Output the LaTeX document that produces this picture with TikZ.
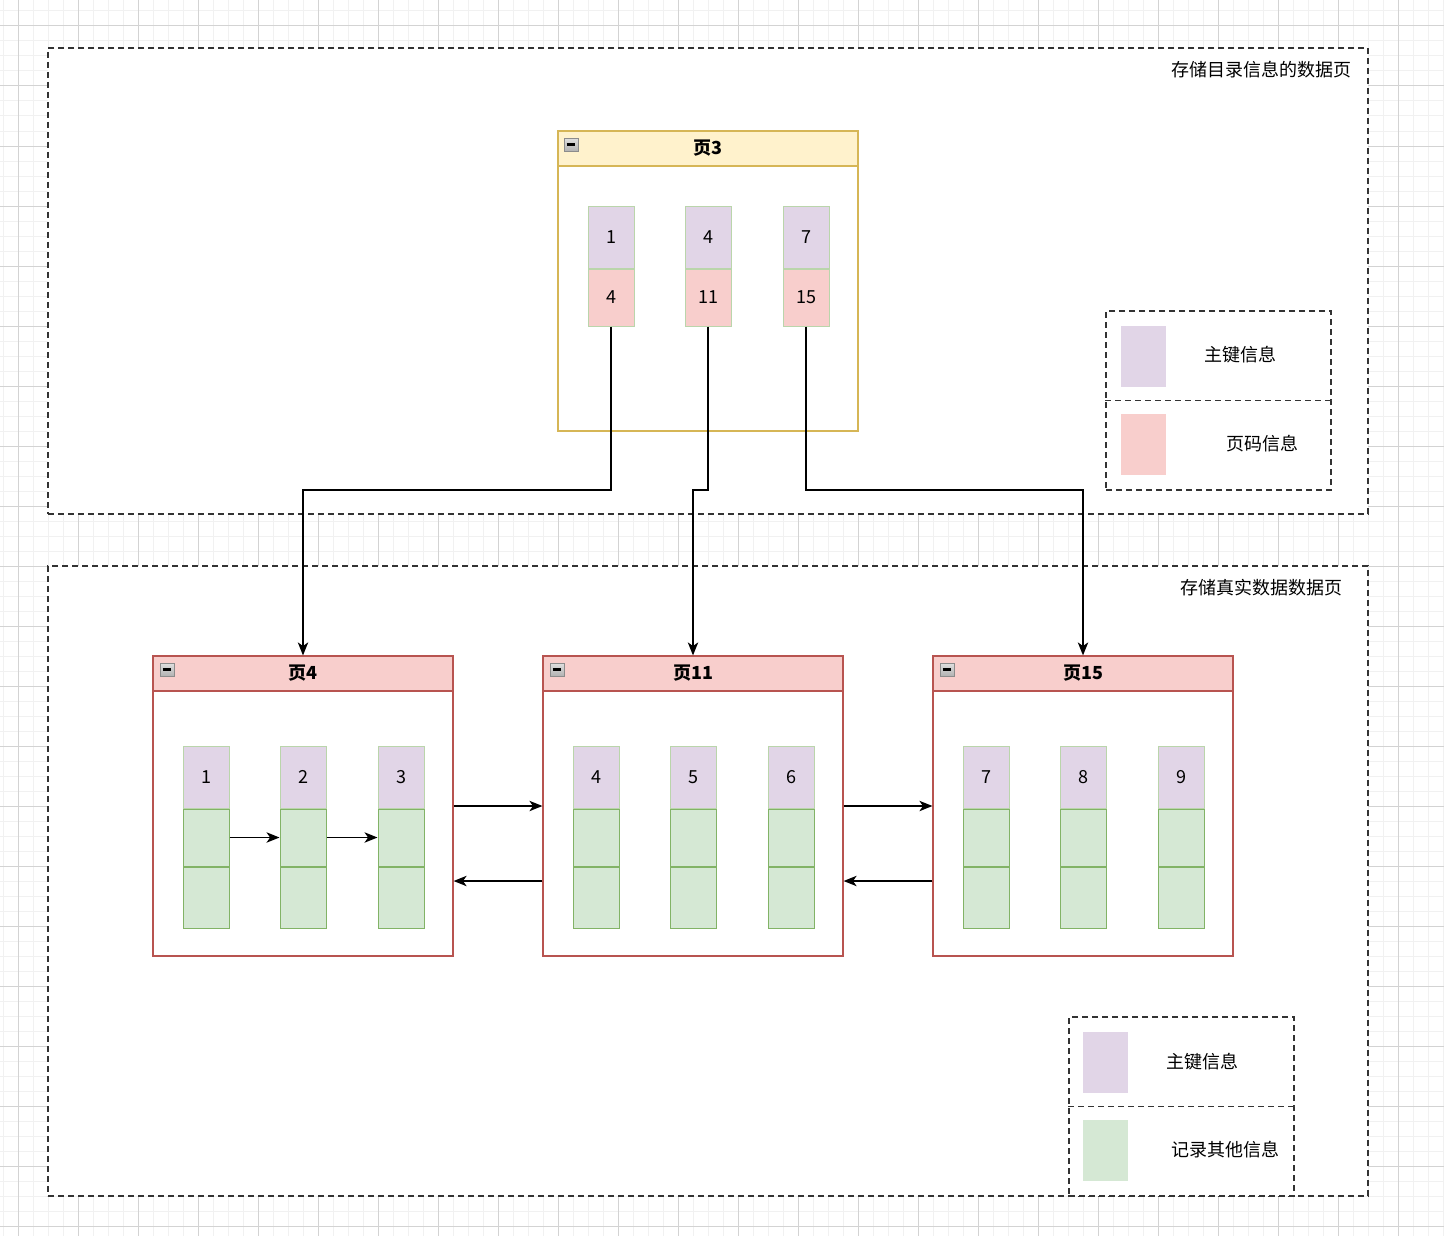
\documentclass[tikz,border=0pt]{standalone}
\usepackage{fontspec}
\newfontfamily\cjk{Noto Sans CJK SC}
\usetikzlibrary{arrows.meta,positioning}

\definecolor{keyfill}{HTML}{E1D5E7}
\definecolor{pagefill}{HTML}{F8CECC}
\definecolor{recfill}{HTML}{D5E8D4}
\definecolor{recline}{HTML}{82B366}
\definecolor{redline}{HTML}{B85450}
\definecolor{dirfill}{HTML}{FFF2CC}
\definecolor{dirline}{HTML}{D6B656}
\definecolor{gridminor}{HTML}{F1F1F1}
\definecolor{gridmajor}{HTML}{D3D3D3}

\tikzset{
  txt/.style={font=\cjk\fontsize{9}{11}\selectfont, inner sep=0pt},
  cell/.style={txt, draw=recline!55, line width=0.5pt, minimum width=23pt},
  keycell/.style={cell, fill=keyfill, minimum height=31pt},
  ptrcell/.style={cell, fill=pagefill, minimum height=28.5pt},
  datacell/.style={cell, draw=recline, fill=recfill},
  page/.style={draw, fill=white, line width=0.6pt, minimum width=150pt, minimum height=150pt, inner sep=0pt},
  pagehead/.style={txt, draw, line width=0.6pt, minimum width=150pt, minimum height=17.5pt},
  minusbox/.style={draw=gray!90, line width=0.5pt, top color=gray!25, bottom color=gray!60, minimum width=7pt, minimum height=6.5pt, inner sep=0pt,
    path picture={\draw[line width=1.2pt, black] ([xshift=1.3pt]path picture bounding box.west) -- ([xshift=-1.3pt]path picture bounding box.east);}},
  area/.style={draw=black!80, dashed, dash pattern=on 3pt off 2pt, line width=0.6pt, fill=white, inner sep=0pt},
  swatch/.style={minimum width=22.5pt, minimum height=30.5pt, inner sep=0pt},
  link/.style={-{Stealth[length=6.5pt,width=5.2pt,inset=1.8pt]}, line width=0.7pt, black}
}

\begin{document}
\begin{tikzpicture}[x=0.5pt,y=-0.5pt]
  \useasboundingbox (0,0) rectangle (1444,1236);

  % draw the grid
  \fill[white] (0,0) rectangle (1444,1236);
  \foreach \x in {3,18,...,1443}
    \draw[gridminor, line width=0.5pt] (\x,0) -- (\x,1236);
  \foreach \y in {11,26,...,1236}
    \draw[gridminor, line width=0.5pt] (0,\y) -- (1444,\y);
  \foreach \x in {18,78,...,1443}
    \draw[gridmajor, line width=0.5pt] (\x,0) -- (\x,1236);
  \foreach \y in {26,86,...,1236}
    \draw[gridmajor, line width=0.5pt] (0,\y) -- (1444,\y);

  % the two dashed areas
  \node[area, minimum width=660pt, minimum height=233pt] (dirarea) at (708,281) {};
  \node[area, minimum width=660pt, minimum height=315pt] (dataarea) at (708,881) {};
  \node[txt, anchor=east] (dirtitle) at (1352,70) {存储目录信息的数据页};
  \node[txt, anchor=east] (datatitle) at (1343,588) {存储真实数据数据页};

  % the directory page
  \node[page, draw=dirline] (p3) at (708,281) {};
  \node[pagehead, fill=dirfill, draw=dirline] (h3) at (708,148.5) {\textbf{页3}};
  \node[minusbox] (m3) at (571,144.5) {};
  \foreach \i/\x/\k/\p in {1/611/1/4, 2/708/4/11, 3/806/7/15}{
    \node[keycell] (k\i) at (\x,237) {\k};
    \node[ptrcell, below=0pt of k\i] (q\i) {\p};
  }

  % the data pages
  \foreach \n/\x in {4/303, 11/693, 15/1083}{
    \node[page, draw=redline] (p\n) at (\x,806) {};
    \node[pagehead, fill=pagefill, draw=redline] (h\n) at (\x,673.5) {\textbf{页\n}};
    \node[minusbox] (m\n) at (\x-136,669.5) {};
  }
  \foreach \n/\x in {1/206,2/303,3/401,4/596,5/693,6/791,7/986,8/1083,9/1181}{
    \node[keycell] (r\n) at (\x,777) {\n};
    \node[datacell, minimum height=28.5pt, below=0pt of r\n] (s\n) {};
    \node[datacell, minimum height=30.5pt, below=0pt of s\n] (t\n) {};
  }

  % records inside page 4
  \draw[link] (s1.east) -- (s2.west);
  \draw[link] (s2.east) -- (s3.west);

  % pages linked both ways
  \draw[link] (p4.east) -- (p11.west);
  \draw[link] ([yshift=-37.5pt]p11.west) -- ([yshift=-37.5pt]p4.east);
  \draw[link] (p11.east) -- (p15.west);
  \draw[link] ([yshift=-37.5pt]p15.west) -- ([yshift=-37.5pt]p11.east);

  % directory entries to pages
  \coordinate (bus) at (0,490);
  \draw[link] (q1.south) -- (q1.south |- bus) -| (p4.north);
  \draw[link] (q2.south) -- (q2.south |- bus) -| (p11.north);
  \draw[link] (q3.south) -- (q3.south |- bus) -| (p15.north);

  % legend of the directory page
  \node[area, minimum width=112.5pt, minimum height=89.5pt] (leg1) at (1218.5,400.5) {};
  \draw[area] (leg1.west) -- (leg1.east);
  \node[swatch, fill=keyfill] (sw1) at (1143.5,356.5) {};
  \node[swatch, fill=pagefill] (sw2) at (1143.5,444.5) {};
  \node[txt] (lt1) at (1240,355) {主键信息};
  \node[txt] (lt2) at (1262,444) {页码信息};

  % legend of the data pages
  \node[area, minimum width=112.5pt, minimum height=89.5pt] (leg2) at (1181.5,1106.5) {};
  \draw[area] (leg2.west) -- (leg2.east);
  \node[swatch, fill=keyfill] (sw3) at (1105.5,1062.5) {};
  \node[swatch, fill=recfill] (sw4) at (1105.5,1150.5) {};
  \node[txt] (lt3) at (1202,1062) {主键信息};
  \node[txt] (lt4) at (1225,1150) {记录其他信息};
\end{tikzpicture}
\end{document}
